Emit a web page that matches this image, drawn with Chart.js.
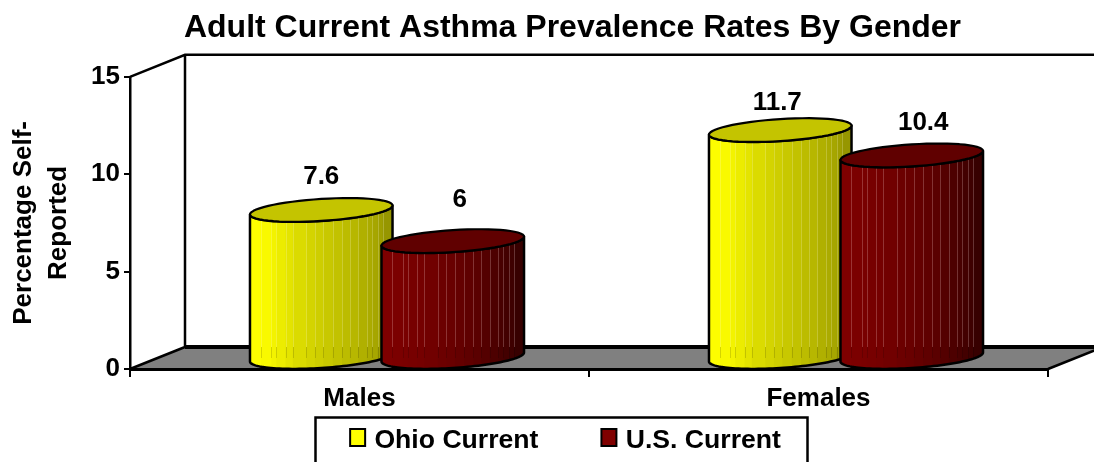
<!DOCTYPE html>
<html><head><meta charset="utf-8">
<style>html,body{margin:0;padding:0;background:#fff}#w{width:1094px;height:462px;position:relative}</style>
<script src="https://cdn.jsdelivr.net/npm/chart.js@4"></script>
</head><body><div id="w"><canvas id="c" width="1094" height="462"></canvas></div>
<script>
const categories = ['Males', 'Females'];
const ohioCurrent = [7.6, 11.7];
const usCurrent = [6, 10.4];
const seriesNames = ['Ohio Current', 'U.S. Current'];
const seriesColors = ['#ffff00', '#800000'];
const axisTitleLines = ['Percentage Self-', 'Reported'];
const chartTitle = 'Adult Current Asthma Prevalence Rates By Gender';

const FONT = '"Liberation Sans", Arial, sans-serif';
const DEPTH_X = 55, DEPTH_Y = 22;
const ELL_RY = 11, ELL_K = 4.5;
const stripeStops = [.077,.15,.185,.25,.30,.395,.455,.515,.58,.645,.70,.76,.82,.855,.895,.93];
const ramps = [
  [[0,[255,255,0]],[.13,[248,248,0]],[.3,[224,224,0]],[.5,[204,204,0]],[.7,[186,186,0]],[.85,[170,170,0]],[1,[144,144,0]]],
  [[0,[128,0,0]],[.25,[118,0,0]],[.5,[104,0,0]],[.7,[88,0,0]],[.85,[70,0,0]],[1,[50,0,0]]]
];
const stripeColors = ['rgba(255,255,210,.24)', 'rgba(255,215,215,.24)'];
const capColors = ['#c4c400', '#600000'];
const labelLift = [[44, 38], [52, 44]];
const labelShift = [[0, -3], [7, 11.5]];

function rampColor(r, f) {
  for (let i = 1; i < r.length; i++) {
    if (f <= r[i][0]) {
      const a = r[i-1], b = r[i], u = (f-a[0])/(b[0]-a[0]);
      return 'rgb(' + a[1].map((v,j)=>Math.round(v+(b[1][j]-v)*u)).join(',') + ')';
    }
  }
  return 'rgb(' + r[r.length-1][1].join(',') + ')';
}
function arc(ctx, cx, cy, rx, t0, t1, move) {
  const n = 60;
  for (let i = 0; i <= n; i++) {
    const t = t0 + (t1-t0)*i/n;
    const x = cx + rx*Math.cos(t), y = cy - ELL_K*Math.cos(t) + ELL_RY*Math.sin(t);
    if (i === 0 && move) ctx.moveTo(x, y); else ctx.lineTo(x, y);
  }
}
function drawCylinder(ctx, el, ds, floorY) {
  const cx = el.x + DEPTH_X/2, rx = el.width/2;
  const top = el.y - DEPTH_Y/2, base = el.base - DEPTH_Y/2;
  const L = cx - rx;
  const body = () => {
    ctx.beginPath();
    ctx.moveTo(L, top + ELL_K);
    ctx.lineTo(L, base + ELL_K);
    arc(ctx, cx, base, rx, Math.PI, 0, false);
    ctx.lineTo(cx + rx, top - ELL_K);
    arc(ctx, cx, top, rx, 0, Math.PI, false);
    ctx.closePath();
  };
  ctx.save();
  body(); ctx.clip();
  const edges = [0, ...stripeStops, 1];
  for (let i = 0; i < edges.length-1; i++) {
    ctx.fillStyle = rampColor(ramps[ds], (edges[i]+edges[i+1])/2);
    ctx.fillRect(L + edges[i]*el.width, top-20, (edges[i+1]-edges[i])*el.width+1, base-top+50);
  }
  ctx.lineWidth = 1;
  stripeStops.forEach(f => {
    const x = Math.round(L + f*el.width) + .5;
    ctx.strokeStyle = stripeColors[ds];
    ctx.beginPath(); ctx.moveTo(x, top-20); ctx.lineTo(x, floorY); ctx.stroke();
    ctx.strokeStyle = 'rgba(0,0,0,.14)';
    ctx.beginPath(); ctx.moveTo(x, floorY); ctx.lineTo(x, floorY+11); ctx.stroke();
  });
  ctx.restore();
  ctx.strokeStyle = '#000'; ctx.lineWidth = 2.5; ctx.lineJoin = 'round';
  body(); ctx.stroke();
  ctx.beginPath(); arc(ctx, cx, top, rx, 0, Math.PI*2, true); ctx.closePath();
  ctx.fillStyle = capColors[ds]; ctx.fill();
  ctx.lineWidth = 2.2; ctx.stroke();
}

const threeD = {
  id: 'threeD',
  beforeLayout(chart) {
    const lg = chart.legend;
    if (lg && !lg._fitWrapped) {
      const fit = lg.fit;
      lg.fit = function () { fit.call(this); this.height = 45; };
      lg._fitWrapped = true;
    }
  },
  afterLayout(chart) {
    const lg = chart.legend, tb = chart.titleBlock;
    lg.left += 41.5; lg.right += 41.5;
    lg.top = 428 - 63 - 1;
    lg.bottom = 462;
    lg.adjustHitBoxes();
    tb.left += 48.5; tb.right += 48.5;
  },
  beforeDraw(chart) {
    const ctx = chart.ctx, a = chart.chartArea, W = chart.width;
    const bx = a.left + DEPTH_X, tY = a.top - DEPTH_Y, fY = a.bottom - DEPTH_Y;
    ctx.save();
    ctx.fillStyle = '#808080';
    ctx.beginPath();
    ctx.moveTo(a.left, a.bottom); ctx.lineTo(bx, fY); ctx.lineTo(a.right + DEPTH_X, fY); ctx.lineTo(a.right, a.bottom);
    ctx.closePath(); ctx.fill();
    ctx.strokeStyle = '#000'; ctx.lineWidth = 2.5;
    ctx.beginPath();
    ctx.moveTo(a.left, a.top); ctx.lineTo(bx, tY); ctx.lineTo(W, tY);
    ctx.moveTo(bx, tY); ctx.lineTo(bx, fY);
    ctx.moveTo(a.left, a.bottom); ctx.lineTo(bx, fY);
    ctx.moveTo(a.right, a.bottom); ctx.lineTo(a.right + DEPTH_X, fY);
    ctx.stroke();
    ctx.lineWidth = 4;
    ctx.beginPath(); ctx.moveTo(bx, fY); ctx.lineTo(W, fY); ctx.stroke();
    ctx.lineWidth = 2.5;
    ctx.strokeRect(315.5, 417.5, 492, 50);
    ctx.restore();
  },
  beforeDatasetDraw() { return false; },
  afterDatasetsDraw(chart) {
    const ctx = chart.ctx, fY = chart.chartArea.bottom - DEPTH_Y;
    ctx.save();
    categories.forEach((_, i) => {
      [0, 1].forEach(ds => drawCylinder(ctx, chart.getDatasetMeta(ds).data[i], ds, fY));
    });
    ctx.fillStyle = '#000';
    ctx.font = 'bold 26px ' + FONT;
    ctx.textAlign = 'center'; ctx.textBaseline = 'middle';
    [0, 1].forEach(ds => {
      chart.getDatasetMeta(ds).data.forEach((el, i) => {
        ctx.fillText(String(chart.data.datasets[ds].data[i]),
          el.x + DEPTH_X/2 + labelShift[ds][i], el.y - labelLift[ds][i]);
      });
    });
    ctx.restore();
  },
  afterDraw(chart) {
    const ctx = chart.ctx;
    ctx.save();
    chart.legend.legendHitBoxes.forEach((h, i) => {
      ctx.fillStyle = seriesColors[i];
      ctx.strokeStyle = '#000'; ctx.lineWidth = 2;
      ctx.fillRect(h.left, 429, 15, 17);
      ctx.strokeRect(h.left, 429, 15, 17);
    });
    ctx.restore();
  }
};

new Chart(document.getElementById('c'), {
  type: 'bar',
  plugins: [threeD],
  data: {
    labels: categories,
    datasets: [
      { label: seriesNames[0], data: ohioCurrent, backgroundColor: seriesColors[0], borderColor: '#000' },
      { label: seriesNames[1], data: usCurrent, backgroundColor: seriesColors[1], borderColor: '#000' }
    ]
  },
  options: {
    responsive: false,
    animation: false,
    events: [],
    layout: { padding: { left: 0, right: 46, top: 0, bottom: 0 } },
    datasets: { bar: { categoryPercentage: 0.573, barPercentage: 1.084 } },
    plugins: {
      tooltip: { enabled: false },
      title: {
        display: true, text: chartTitle, color: '#000',
        font: { family: FONT, weight: 'bold', size: 32 },
        padding: { top: 9, bottom: 29.4 }
      },
      legend: {
        display: true, position: 'bottom',
        labels: {
          color: '#000', boxWidth: 11, boxHeight: 11, padding: 63,
          font: { family: FONT, weight: 'bold', size: 26.6 }
        }
      }
    },
    scales: {
      x: {
        afterFit(s) { s.height = 48; },
        grid: { drawOnChartArea: false, color: '#000', lineWidth: 2, tickLength: 8, tickColor: '#000' },
        border: { color: '#000', width: 3 },
        ticks: { color: '#000', padding: 6, maxRotation: 0, font: { family: FONT, weight: 'bold', size: 26 } }
      },
      y: {
        min: 0, max: 15,
        afterFit(s) { s.width = 130; },
        grid: { drawOnChartArea: false, color: '#000', lineWidth: 2, tickLength: 6, tickColor: '#000' },
        border: { color: '#000', width: 2.5 },
        ticks: { stepSize: 5, color: '#000', padding: 4, font: { family: FONT, weight: 'bold', size: 26 } },
        title: {
          display: true, text: axisTitleLines, color: '#000',
          font: { family: FONT, weight: 'bold', size: 26, lineHeight: 1.32 },
          padding: { top: 7, bottom: 0 }
        }
      }
    }
  }
});
</script></body></html>
